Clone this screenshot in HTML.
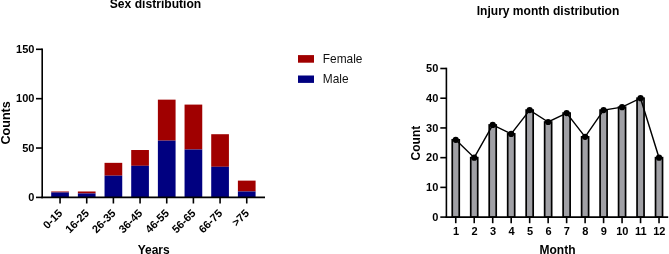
<!DOCTYPE html>
<html><head><meta charset="utf-8"><title>Charts</title>
<style>
html,body{margin:0;padding:0;background:#fff;width:669px;height:254px;overflow:hidden;}
svg{display:block;font-family:"Liberation Sans", sans-serif;will-change:transform;}
</style></head>
<body>
<svg width="669" height="254" viewBox="0 0 669 254">
<rect width="669" height="254" fill="#fff"/>
<rect x="51.20" y="191.48" width="17.7" height="0.99" fill="#a00000"/>
<rect x="51.20" y="192.46" width="17.7" height="4.94" fill="#000080"/>
<rect x="77.87" y="191.48" width="17.7" height="1.97" fill="#a00000"/>
<rect x="77.87" y="193.45" width="17.7" height="3.95" fill="#000080"/>
<rect x="104.54" y="162.84" width="17.7" height="12.84" fill="#a00000"/>
<rect x="104.54" y="175.68" width="17.7" height="21.72" fill="#000080"/>
<rect x="131.21" y="150.01" width="17.7" height="15.80" fill="#a00000"/>
<rect x="131.21" y="165.81" width="17.7" height="31.59" fill="#000080"/>
<rect x="157.88" y="99.65" width="17.7" height="40.97" fill="#a00000"/>
<rect x="157.88" y="140.63" width="17.7" height="56.77" fill="#000080"/>
<rect x="184.55" y="104.59" width="17.7" height="44.92" fill="#a00000"/>
<rect x="184.55" y="149.51" width="17.7" height="47.89" fill="#000080"/>
<rect x="211.22" y="134.21" width="17.7" height="32.58" fill="#a00000"/>
<rect x="211.22" y="166.79" width="17.7" height="30.61" fill="#000080"/>
<rect x="237.89" y="180.62" width="17.7" height="10.86" fill="#a00000"/>
<rect x="237.89" y="191.48" width="17.7" height="5.92" fill="#000080"/>
<line x1="42.2" y1="48.50" x2="42.2" y2="198.20" stroke="#000" stroke-width="1.6"/>
<line x1="41.40" y1="197.4" x2="265.0" y2="197.4" stroke="#000" stroke-width="1.6"/>
<line x1="36" y1="197.40" x2="42.20" y2="197.40" stroke="#000" stroke-width="1.6"/>
<text x="34.4" y="201.10" text-anchor="end" font-weight="bold" font-size="11">0</text>
<line x1="36" y1="148.03" x2="42.20" y2="148.03" stroke="#000" stroke-width="1.6"/>
<text x="34.4" y="151.73" text-anchor="end" font-weight="bold" font-size="11">50</text>
<line x1="36" y1="98.67" x2="42.20" y2="98.67" stroke="#000" stroke-width="1.6"/>
<text x="34.4" y="102.37" text-anchor="end" font-weight="bold" font-size="11">100</text>
<line x1="36" y1="49.30" x2="42.20" y2="49.30" stroke="#000" stroke-width="1.6"/>
<text x="34.4" y="53.00" text-anchor="end" font-weight="bold" font-size="11">150</text>
<line x1="60.05" y1="197.4" x2="60.05" y2="203.5" stroke="#000" stroke-width="1.6"/>
<text transform="translate(63.05,213.9) rotate(-45)" text-anchor="end" font-weight="bold" font-size="11">0-15</text>
<line x1="86.72" y1="197.4" x2="86.72" y2="203.5" stroke="#000" stroke-width="1.6"/>
<text transform="translate(89.72,213.9) rotate(-45)" text-anchor="end" font-weight="bold" font-size="11">16-25</text>
<line x1="113.39" y1="197.4" x2="113.39" y2="203.5" stroke="#000" stroke-width="1.6"/>
<text transform="translate(116.39,213.9) rotate(-45)" text-anchor="end" font-weight="bold" font-size="11">26-35</text>
<line x1="140.06" y1="197.4" x2="140.06" y2="203.5" stroke="#000" stroke-width="1.6"/>
<text transform="translate(143.06,213.9) rotate(-45)" text-anchor="end" font-weight="bold" font-size="11">36-45</text>
<line x1="166.73" y1="197.4" x2="166.73" y2="203.5" stroke="#000" stroke-width="1.6"/>
<text transform="translate(169.73,213.9) rotate(-45)" text-anchor="end" font-weight="bold" font-size="11">46-55</text>
<line x1="193.40" y1="197.4" x2="193.40" y2="203.5" stroke="#000" stroke-width="1.6"/>
<text transform="translate(196.40,213.9) rotate(-45)" text-anchor="end" font-weight="bold" font-size="11">56-65</text>
<line x1="220.07" y1="197.4" x2="220.07" y2="203.5" stroke="#000" stroke-width="1.6"/>
<text transform="translate(223.07,213.9) rotate(-45)" text-anchor="end" font-weight="bold" font-size="11">66-75</text>
<line x1="246.74" y1="197.4" x2="246.74" y2="203.5" stroke="#000" stroke-width="1.6"/>
<text transform="translate(249.74,213.9) rotate(-45)" text-anchor="end" font-weight="bold" font-size="11">&gt;75</text>
<text x="155.5" y="8.2" text-anchor="middle" font-weight="bold" font-size="12.1">Sex distribution</text>
<text x="153.7" y="253.5" text-anchor="middle" font-weight="bold" font-size="12">Years</text>
<text transform="translate(10.3,122.9) rotate(-90)" text-anchor="middle" font-weight="bold" font-size="12.6">Counts</text>
<rect x="298" y="55.1" width="16" height="7.6" fill="#a00000"/>
<rect x="298" y="75.5" width="16" height="7.4" fill="#000080"/>
<text x="322.8" y="63.1" font-size="11.9" fill="#111">Female</text>
<text x="322.8" y="83.3" font-size="11.9" fill="#111">Male</text>
<rect x="452.25" y="139.83" width="7.0" height="77.27" fill="#a0a0a5" stroke="#000" stroke-width="1.7"/>
<rect x="470.73" y="157.66" width="7.0" height="59.44" fill="#a0a0a5" stroke="#000" stroke-width="1.7"/>
<rect x="489.21" y="124.97" width="7.0" height="92.13" fill="#a0a0a5" stroke="#000" stroke-width="1.7"/>
<rect x="507.69" y="133.88" width="7.0" height="83.22" fill="#a0a0a5" stroke="#000" stroke-width="1.7"/>
<rect x="526.17" y="110.11" width="7.0" height="106.99" fill="#a0a0a5" stroke="#000" stroke-width="1.7"/>
<rect x="544.65" y="122.00" width="7.0" height="95.10" fill="#a0a0a5" stroke="#000" stroke-width="1.7"/>
<rect x="563.13" y="113.08" width="7.0" height="104.02" fill="#a0a0a5" stroke="#000" stroke-width="1.7"/>
<rect x="581.61" y="136.86" width="7.0" height="80.24" fill="#a0a0a5" stroke="#000" stroke-width="1.7"/>
<rect x="600.09" y="110.11" width="7.0" height="106.99" fill="#a0a0a5" stroke="#000" stroke-width="1.7"/>
<rect x="618.57" y="107.14" width="7.0" height="109.96" fill="#a0a0a5" stroke="#000" stroke-width="1.7"/>
<rect x="637.05" y="98.22" width="7.0" height="118.88" fill="#a0a0a5" stroke="#000" stroke-width="1.7"/>
<rect x="655.53" y="157.66" width="7.0" height="59.44" fill="#a0a0a5" stroke="#000" stroke-width="1.7"/>
<polyline points="455.75,139.83 474.23,157.66 492.71,124.97 511.19,133.88 529.67,110.11 548.15,122.00 566.63,113.08 585.11,136.86 603.59,110.11 622.07,107.14 640.55,98.22 659.03,157.66" fill="none" stroke="#000" stroke-width="1.45"/>
<circle cx="455.75" cy="139.83" r="3.1" fill="#000"/>
<circle cx="474.23" cy="157.66" r="3.1" fill="#000"/>
<circle cx="492.71" cy="124.97" r="3.1" fill="#000"/>
<circle cx="511.19" cy="133.88" r="3.1" fill="#000"/>
<circle cx="529.67" cy="110.11" r="3.1" fill="#000"/>
<circle cx="548.15" cy="122.00" r="3.1" fill="#000"/>
<circle cx="566.63" cy="113.08" r="3.1" fill="#000"/>
<circle cx="585.11" cy="136.86" r="3.1" fill="#000"/>
<circle cx="603.59" cy="110.11" r="3.1" fill="#000"/>
<circle cx="622.07" cy="107.14" r="3.1" fill="#000"/>
<circle cx="640.55" cy="98.22" r="3.1" fill="#000"/>
<circle cx="659.03" cy="157.66" r="3.1" fill="#000"/>
<line x1="446.4" y1="67.70" x2="446.4" y2="217.90" stroke="#000" stroke-width="1.6"/>
<line x1="445.60" y1="217.1" x2="668.2" y2="217.1" stroke="#000" stroke-width="1.6"/>
<line x1="440.3" y1="217.10" x2="446.40" y2="217.10" stroke="#000" stroke-width="1.6"/>
<text x="438.3" y="220.90" text-anchor="end" font-weight="bold" font-size="11">0</text>
<line x1="440.3" y1="187.38" x2="446.40" y2="187.38" stroke="#000" stroke-width="1.6"/>
<text x="438.3" y="191.18" text-anchor="end" font-weight="bold" font-size="11">10</text>
<line x1="440.3" y1="157.66" x2="446.40" y2="157.66" stroke="#000" stroke-width="1.6"/>
<text x="438.3" y="161.46" text-anchor="end" font-weight="bold" font-size="11">20</text>
<line x1="440.3" y1="127.94" x2="446.40" y2="127.94" stroke="#000" stroke-width="1.6"/>
<text x="438.3" y="131.74" text-anchor="end" font-weight="bold" font-size="11">30</text>
<line x1="440.3" y1="98.22" x2="446.40" y2="98.22" stroke="#000" stroke-width="1.6"/>
<text x="438.3" y="102.02" text-anchor="end" font-weight="bold" font-size="11">40</text>
<line x1="440.3" y1="68.50" x2="446.40" y2="68.50" stroke="#000" stroke-width="1.6"/>
<text x="438.3" y="72.30" text-anchor="end" font-weight="bold" font-size="11">50</text>
<line x1="455.75" y1="217.1" x2="455.75" y2="223.2" stroke="#000" stroke-width="1.6"/>
<text x="456.05" y="234.8" text-anchor="middle" font-weight="bold" font-size="11">1</text>
<line x1="474.23" y1="217.1" x2="474.23" y2="223.2" stroke="#000" stroke-width="1.6"/>
<text x="474.53" y="234.8" text-anchor="middle" font-weight="bold" font-size="11">2</text>
<line x1="492.71" y1="217.1" x2="492.71" y2="223.2" stroke="#000" stroke-width="1.6"/>
<text x="493.01" y="234.8" text-anchor="middle" font-weight="bold" font-size="11">3</text>
<line x1="511.19" y1="217.1" x2="511.19" y2="223.2" stroke="#000" stroke-width="1.6"/>
<text x="511.49" y="234.8" text-anchor="middle" font-weight="bold" font-size="11">4</text>
<line x1="529.67" y1="217.1" x2="529.67" y2="223.2" stroke="#000" stroke-width="1.6"/>
<text x="529.97" y="234.8" text-anchor="middle" font-weight="bold" font-size="11">5</text>
<line x1="548.15" y1="217.1" x2="548.15" y2="223.2" stroke="#000" stroke-width="1.6"/>
<text x="548.45" y="234.8" text-anchor="middle" font-weight="bold" font-size="11">6</text>
<line x1="566.63" y1="217.1" x2="566.63" y2="223.2" stroke="#000" stroke-width="1.6"/>
<text x="566.93" y="234.8" text-anchor="middle" font-weight="bold" font-size="11">7</text>
<line x1="585.11" y1="217.1" x2="585.11" y2="223.2" stroke="#000" stroke-width="1.6"/>
<text x="585.41" y="234.8" text-anchor="middle" font-weight="bold" font-size="11">8</text>
<line x1="603.59" y1="217.1" x2="603.59" y2="223.2" stroke="#000" stroke-width="1.6"/>
<text x="603.89" y="234.8" text-anchor="middle" font-weight="bold" font-size="11">9</text>
<line x1="622.07" y1="217.1" x2="622.07" y2="223.2" stroke="#000" stroke-width="1.6"/>
<text x="622.37" y="234.8" text-anchor="middle" font-weight="bold" font-size="11">10</text>
<line x1="640.55" y1="217.1" x2="640.55" y2="223.2" stroke="#000" stroke-width="1.6"/>
<text x="640.85" y="234.8" text-anchor="middle" font-weight="bold" font-size="11">11</text>
<line x1="659.03" y1="217.1" x2="659.03" y2="223.2" stroke="#000" stroke-width="1.6"/>
<text x="659.33" y="234.8" text-anchor="middle" font-weight="bold" font-size="11">12</text>
<text x="548" y="14.7" text-anchor="middle" font-weight="bold" font-size="12.05">Injury month distribution</text>
<text x="557.5" y="253.5" text-anchor="middle" font-weight="bold" font-size="12">Month</text>
<text transform="translate(419.6,143.1) rotate(-90)" text-anchor="middle" font-weight="bold" font-size="12">Count</text>
</svg>
</body></html>
